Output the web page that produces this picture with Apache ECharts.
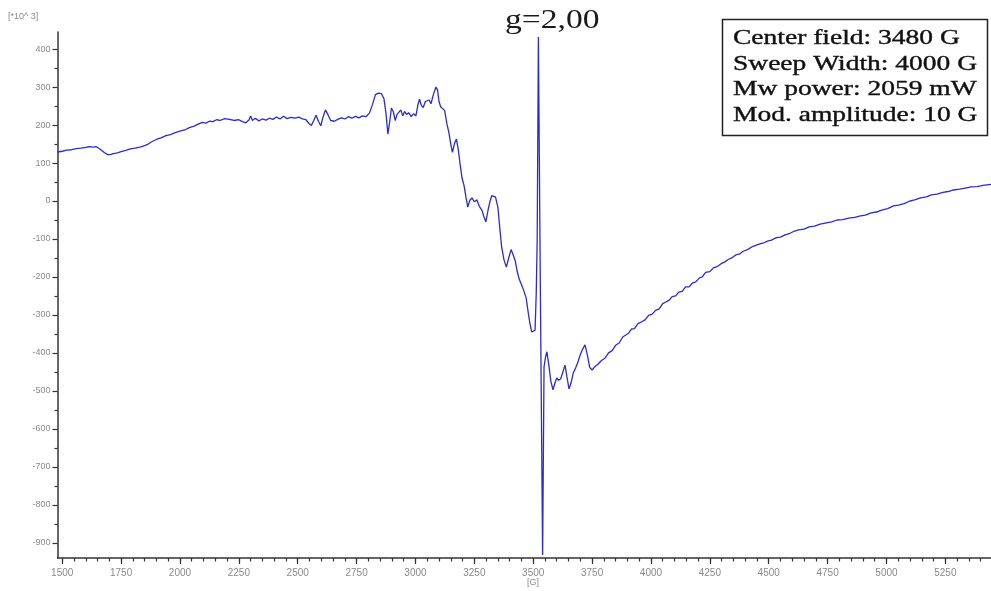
<!DOCTYPE html>
<html>
<head>
<meta charset="utf-8">
<script src="https://cdn.jsdelivr.net/npm/echarts@6/dist/echarts.min.js"></script>
<style>html,body{margin:0;padding:0;background:#fff}#c{width:991px;height:591px}</style>
</head>
<body>
<div id="c"></div>
<script>
// Magnetic field (G)
var field = [1480,1500,1520,1540,1560,1580,1600,1615,1630,1645,1655,1668,1680,1693,1705,1718,1735,1750,1770,1790,1810,1830,1850,1865,1880,1900,1920,1940,1960,1980,2000,2020,2040,2060,2080,2095,2110,2125,2140,2155,2170,2190,2210,2230,2250,2265,2280,2293,2300,2308,2320,2335,2350,2365,2380,2395,2410,2425,2440,2455,2470,2490,2505,2520,2535,2548,2558,2568,2578,2588,2598,2608,2618,2628,2640,2655,2670,2685,2700,2715,2730,2745,2760,2775,2790,2805,2818,2830,2842,2855,2866,2875,2883,2891,2898,2906,2914,2922,2930,2938,2946,2954,2962,2972,2982,2992,3002,3010,3017,3025,3033,3042,3050,3058,3066,3076,3087,3094,3100,3107,3115,3124,3133,3142,3150,3157,3165,3174,3182,3190,3198,3206,3214,3222,3231,3240,3250,3261,3271,3282,3290,3299,3308,3316,3324,3332,3340,3350,3358,3366,3376,3386,3396,3406,3414,3424,3432,3440,3450,3460,3470,3478,3486,3494,3502,3508,3513,3517,3522,3530,3540,3546,3552,3558,3566,3575,3584,3592,3600,3608,3617,3626,3635,3643,3652,3661,3670,3680,3690,3700,3710,3720,3730,3740,3750,3762,3775,3790,3805,3820,3835,3850,3865,3880,3893,3905,3918,3930,3945,3961,3975,3990,4005,4020,4035,4050,4063,4078,4090,4105,4118,4133,4147,4162,4176,4190,4205,4218,4232,4250,4265,4280,4298,4312,4328,4343,4360,4375,4390,4410,4428,4445,4462,4480,4498,4512,4530,4550,4570,4590,4610,4627,4650,4672,4695,4718,4740,4767,4790,4815,4840,4865,4890,4911,4935,4958,4980,5005,5030,5051,5075,5100,5120,5145,5170,5191,5215,5240,5262,5285,5310,5335,5360,5385,5410,5444];
// EPR signal (x10^3)
var signal = [129,131,134,135,138,139,141,143,142,143,139,133,127,122,122,125,127,130,133,137,139,142,146,150,156,162,166,172,175,180,184,187,193,197,203,207,205,210,209,214,212,217,215,212,214,209,206,213,224,212,218,211,216,213,218,215,221,216,223,217,220,218,221,216,214,204,199,212,226,210,198,222,240,228,212,210,215,219,216,222,218,223,219,224,222,232,255,280,284,283,270,230,176,210,245,235,212,228,226,240,224,236,228,232,222,230,224,252,268,252,246,262,258,266,256,280,300,292,262,248,250,238,205,180,150,128,150,163,135,95,60,42,12,-16,2,8,-2,3,-14,-24,-40,-55,-25,-2,14,18,10,-16,-70,-121,-155,-174,-150,-128,-140,-158,-185,-205,-220,-236,-255,-290,-322,-345,-347,-340,-240,-100,432,-200,-932,-437,-412,-397,-430,-475,-497,-480,-466,-472,-468,-450,-432,-462,-495,-478,-453,-440,-424,-405,-390,-379,-405,-438,-445,-436,-430,-420,-414,-400,-394,-380,-374,-358,-353,-348,-337,-336,-323,-318,-313,-301,-298,-288,-284,-270,-266,-261,-252,-250,-240,-238,-226,-226,-216,-213,-203,-200,-188,-186,-176,-173,-165,-161,-154,-150,-142,-140,-133,-128,-121,-117,-113,-110,-105,-103,-97,-95,-89,-85,-79,-76,-74,-68,-66,-61,-58,-55,-50,-49,-45,-43,-39,-37,-31,-29,-24,-20,-13,-11,-7,0,3,8,11,16,18,23,25,29,31,34,37,38,41,44];
var xMajor = [1500,1750,2000,2250,2500,2750,3000,3250,3500,3750,4000,4250,4500,4750,5000,5250];
var xMinor = [1500,1550,1600,1650,1700,1750,1800,1850,1900,1950,2000,2050,2100,2150,2200,2250,2300,2350,2400,2450,2500,2550,2600,2650,2700,2750,2800,2850,2900,2950,3000,3050,3100,3150,3200,3250,3300,3350,3400,3450,3500,3550,3600,3650,3700,3750,3800,3850,3900,3950,4000,4050,4100,4150,4200,4250,4300,4350,4400,4450,4500,4550,4600,4650,4700,4750,4800,4850,4900,4950,5000,5050,5100,5150,5200,5250,5300,5350,5400];
var yMajor = [-900,-800,-700,-600,-500,-400,-300,-200,-100,0,100,200,300,400];
var yMinor = [-850,-750,-650,-550,-450,-350,-250,-150,-50,50,150,250,350];
var boxLines = ['Center field: 3480 G','Sweep Width: 4000 G','Mw power: 2059 mW','Mod. amplitude: 10 G'];
var peakLabel = 'g=2,00';

var pts = field.map(function(f,i){return [f, signal[i]];});
var axisCol = '#333';
var labCol = '#8a8a8a';
var sans = 'Arial, "Liberation Sans", sans-serif';
var serif = '"Times New Roman", "Liberation Serif", serif';
function plain(v){return String(v);}

var chart = echarts.init(document.getElementById('c'));
var graphics = [
  {type:'text', left:8, top:12, style:{text:'[*10^ 3]', fill:labCol, font:'9px '+sans}},
  {type:'text', x:527, y:578, style:{text:'[G]', fill:labCol, font:'9px '+sans}},
  {type:'text', x:505, y:21, scaleX:1.2, style:{x:0,y:0,text:peakLabel, fill:'#1a1a1a', font:'28px '+serif, verticalAlign:'middle'}},
  {type:'rect', shape:{x:722.5,y:19.5,width:265,height:116}, style:{fill:'#fff', stroke:'#222', lineWidth:1.5}}
];
boxLines.forEach(function(t,i){
  graphics.push({type:'text', x:733, y:38+i*25.8, scaleX:1.25, style:{x:0,y:0,text:t, fill:'#111', stroke:'#111', lineWidth:0.4, font:'22px '+serif, verticalAlign:'middle'}});
});

chart.setOption({
  animation:false,
  backgroundColor:'#fff',
  grid:{left:57.5, right:0, top:32, bottom:33, containLabel:false},
  xAxis:[
    {type:'value', min:1480, max:5444, position:'bottom',
     axisLine:{onZero:false, lineStyle:{color:axisCol, width:1.5}},
     axisTick:{customValues:xMajor, length:6, lineStyle:{color:axisCol, width:1.2}},
     axisLabel:{customValues:xMajor, formatter:plain, color:labCol, fontSize:10, fontFamily:sans, margin:10},
     splitLine:{show:false}},
    {type:'value', min:1480, max:5444, position:'bottom',
     axisLine:{show:false, onZero:false},
     axisTick:{customValues:xMinor, length:3.5, lineStyle:{color:axisCol, width:1.2}},
     axisLabel:{show:false}, splitLine:{show:false}}
  ],
  yAxis:[
    {type:'value', min:-940, max:445, position:'left',
     axisLine:{show:true, onZero:false, lineStyle:{color:axisCol, width:1.5}},
     axisTick:{show:true, customValues:yMajor, length:5, lineStyle:{color:axisCol, width:1.2}},
     axisLabel:{customValues:yMajor, formatter:plain, color:labCol, fontSize:9, fontFamily:sans, margin:7},
     splitLine:{show:false}},
    {type:'value', min:-940, max:445, position:'left',
     axisLine:{show:false, onZero:false},
     axisTick:{show:true, customValues:yMinor, length:3, lineStyle:{color:axisCol, width:1.2}},
     axisLabel:{show:false}, splitLine:{show:false}}
  ],
  series:[{
    type:'line', data:pts, xAxisIndex:0, yAxisIndex:0,
    showSymbol:false, symbol:'none', clip:false,
    lineStyle:{color:'#2a2ad8', width:1.3}
  }],
  graphic:graphics
});
</script>
</body>
</html>
